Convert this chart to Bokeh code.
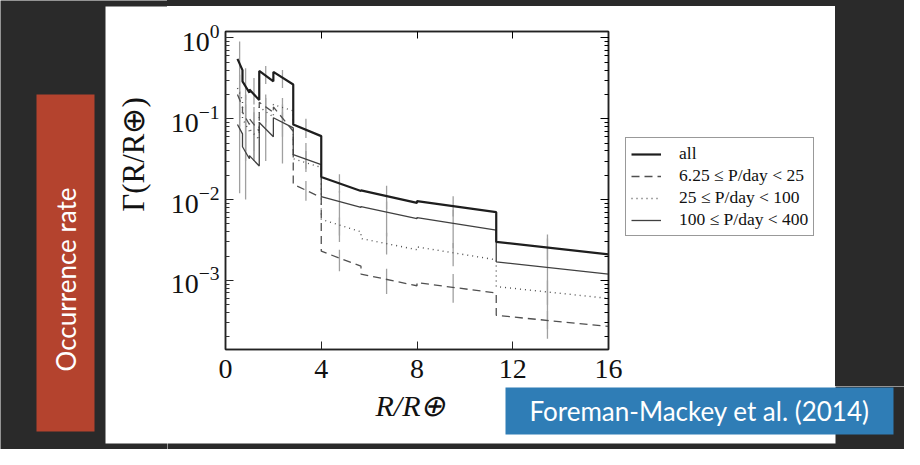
from bokeh.plotting import figure
from bokeh.layouts import row, column
from bokeh.models import (LogAxis, LinearAxis, FixedTicker, LogTicker, Legend,
                          LegendItem, Label, Range1d, Div)
from bokeh.embed import file_html
from bokeh.resources import INLINE

# ---------------- data ----------------
bin_edges = [0.5, 0.71, 1.0, 1.41, 2.0, 2.83, 4.0, 5.66, 8.0, 11.31, 16.0]
bin_centers = [0.59, 0.84, 1.19, 1.68, 2.38, 3.36, 4.76, 6.73, 9.51, 13.45]

all_start = [0.55, 0.29, 0.23, 0.39, 0.38, 0.085, 0.019, 0.0130, 0.0096, 0.0030]
all_end = [0.40, 0.21, 0.17, 0.29, 0.265, 0.061, 0.0128, 0.0091, 0.0070, 0.0021]
all_lo = [0.30, 0.17, 0.15, 0.27, 0.24, 0.058, 0.0122, 0.0076, 0.0062, 0.0018]
all_hi = [0.90, 0.42, 0.32, 0.45, 0.40, 0.100, 0.0206, 0.0148, 0.0110, 0.0033]

short_start = [0.20, 0.12, 0.10, 0.16, 0.14, 0.0155, 0.0023, 0.0012, 0.00094, 0.00037]
short_end = [0.14, 0.085, 0.07, 0.12, 0.07, 0.0106, 0.0015, 0.00086, 0.00070, 0.00027]
short_lo = [0.08, 0.03, 0.04, 0.09, 0.06, 0.0097, 0.0013, 0.00068, 0.00053, 0.00025]
short_hi = [0.30, 0.20, 0.14, 0.20, 0.15, 0.0170, 0.0024, 0.0014, 0.0012, 0.00042]

mid_start = [0.24, 0.10, 0.075, 0.14, 0.15, 0.032, 0.0057, 0.0033, 0.0026, 0.00084]
mid_end = [0.17, 0.07, 0.055, 0.105, 0.125, 0.025, 0.0040, 0.0024, 0.0018, 0.00060]
mid_lo = [0.10, 0.04, 0.03, 0.08, 0.10, 0.022, 0.0030, 0.0021, 0.0015, 0.00050]
mid_hi = [0.35, 0.20, 0.12, 0.18, 0.18, 0.040, 0.0060, 0.0039, 0.0029, 0.0010]

long_start = [0.085, 0.045, 0.035, 0.09, 0.103, 0.036, 0.0109, 0.0082, 0.0060, 0.0017]
long_end = [0.065, 0.032, 0.026, 0.06, 0.077, 0.027, 0.0080, 0.0058, 0.0042, 0.0012]
long_lo = [0.012, 0.010, 0.030, 0.030, 0.028, 0.024, 0.0036, 0.0035, 0.0025, 0.00019]
long_hi = [0.22, 0.15, 0.09, 0.13, 0.12, 0.050, 0.0128, 0.0095, 0.0075, 0.0037]

series_labels = ["all", "6.25 \u2264 P/day < 25", "25 \u2264 P/day < 100",
                 "100 \u2264 P/day < 400"]
x_ticks = [0, 4, 8, 12, 16]

DARK = "#2a2a2a"
RED = "#b4432e"
BLUE = "#2f7db6"
SERIF = "Liberation Serif"

STYLE_ALL = dict(line_color="#1e1e1e", line_width=2.2)
STYLE_SHORT = dict(line_color="#505050", line_width=1.3, line_dash="8 5")
STYLE_MID = dict(line_color="#505050", line_width=1.4, line_dash="1 4")
STYLE_LONG = dict(line_color="#404040", line_width=1.3)


def steps(start, end):
    xs, ys = [], []
    for i in range(len(start)):
        xs += [bin_edges[i], bin_edges[i + 1]]
        ys += [start[i], end[i]]
    return xs, ys


def deco_fig(x0, x1, y0, y1, bg=DARK):
    """A decoration canvas whose frame fills it; coordinates = page pixels."""
    f = figure(width=x1 - x0, height=y1 - y0, title=None, output_backend="svg",
               toolbar_location=None, x_range=Range1d(x0, x1),
               y_range=Range1d(y1, y0), x_axis_location=None, y_axis_location=None,
               min_border=0, border_fill_color=bg, background_fill_color=bg,
               outline_line_color=None)
    f.grid.visible = False
    return f


def strip(w, h):
    return Div(text="", width=w, height=h, margin=0,
               styles={"background-color": DARK})


# ---------------- left strip: red box, its text, y-axis title ----------------
left = deco_fig(8, 175, 8, 457)
left.quad(left=[113], right=[185], top=[14], bottom=[451], fill_color="white",
          line_color=None)
left.quad(left=[44], right=[102], top=[102], bottom=[439], fill_color=RED,
          line_color=None)
left.add_layout(Label(x=73, y=287, text="Occurrence rate", angle=90,
                      angle_units="deg", text_align="center",
                      text_baseline="middle", text_color="white",
                      text_font="Lato", text_font_size="26px"))
left.add_layout(Label(x=141, y=162, text="\u0393(R/R\u2295)", angle=90,
                      angle_units="deg", text_align="center",
                      text_baseline="middle", text_color="#111111",
                      text_font=SERIF, text_font_size="31px"))

# ---------------- top / right strips ----------------
top_strip = strip(737, 6)
right_strip = strip(69, 380)

# ---------------- bottom strip: x title and citation ----------------
bottom = deco_fig(175, 912, 394, 457, bg="white")
bottom.quad(left=[843], right=[930], top=[380], bottom=[470], fill_color=DARK,
            line_color=None)
bottom.quad(left=[160], right=[930], top=[451], bottom=[470], fill_color=DARK,
            line_color=None)
bottom.quad(left=[513], right=[901], top=[395], bottom=[442], fill_color=BLUE,
            line_color=None)
bottom.add_layout(Label(x=418, y=413, text="R/R\u2295", text_align="center",
                        text_baseline="middle", text_color="#111111",
                        text_font=SERIF, text_font_style="italic",
                        text_font_size="30px"))
bottom.add_layout(Label(x=707, y=418, text="Foreman-Mackey et al. (2014)",
                        text_align="center", text_baseline="middle",
                        text_color="white", text_font="Lato",
                        text_font_size="26px"))

# ---------------- main chart ----------------
fig = figure(width=457, height=380, title=None, output_backend="svg",
             toolbar_location=None, x_range=Range1d(0, 16),
             y_range=Range1d(1.4e-4, 1.2), y_axis_type="log",
             min_border_left=57, min_border_right=16, min_border_top=25,
             min_border_bottom=37)
fig.border_fill_color = "white"
fig.background_fill_color = "white"
fig.outline_line_color = "#222222"
fig.outline_line_width = 1.5
fig.grid.visible = False

err_color = "#a0a0a0"
for lo, hi in [(short_lo, short_hi), (mid_lo, mid_hi), (long_lo, long_hi),
               (all_lo, all_hi)]:
    fig.segment(x0=bin_centers, y0=lo, x1=bin_centers, y1=hi,
                line_color=err_color, line_width=1.3)

sx_short, sy_short = steps(short_start, short_end)
fig.line(sx_short, sy_short, **STYLE_SHORT)
sx_mid, sy_mid = steps(mid_start, mid_end)
fig.line(sx_mid, sy_mid, **STYLE_MID)
sx_long, sy_long = steps(long_start, long_end)
fig.line(sx_long, sy_long, **STYLE_LONG)
sx_all, sy_all = steps(all_start, all_end)
fig.line(sx_all, sy_all, **STYLE_ALL)

xa = fig.xaxis[0]
xa.ticker = FixedTicker(ticks=x_ticks)
ya = fig.yaxis[0]
ya.ticker = LogTicker(num_minor_ticks=10)
for ax in (xa, ya):
    ax.axis_line_color = "#222222"
    ax.axis_line_width = 1.5
    ax.major_tick_in = 8
    ax.major_tick_out = 0
    ax.minor_tick_in = 4
    ax.minor_tick_out = 0
    ax.major_tick_line_color = "#222222"
    ax.minor_tick_line_color = "#333333"
    ax.major_label_text_font = SERIF
    ax.major_label_text_font_size = "28px"
    ax.major_label_text_color = "#111111"
xa.minor_tick_line_color = None
xa.major_label_standoff = 10
ya.major_label_standoff = 6

top_ax = LinearAxis(ticker=FixedTicker(ticks=x_ticks), major_tick_in=7,
                    major_tick_out=0, minor_tick_line_color=None,
                    axis_line_color="#222222", axis_line_width=1.5,
                    major_label_text_font_size="0px", major_label_standoff=0,
                    major_label_text_color=None)
right_ax = LogAxis(ticker=LogTicker(num_minor_ticks=10), major_tick_in=8,
                   major_tick_out=0, minor_tick_in=4, minor_tick_out=0,
                   axis_line_color="#222222", axis_line_width=1.5,
                   major_label_text_font_size="0px", major_label_standoff=0,
                   major_label_text_color=None)
fig.add_layout(top_ax, "above")
fig.add_layout(right_ax, "right")

# ---------------- legend panel (right of the axes) ----------------
# legend proxies: the same series, which fall outside this panel's view
leg_fig = deco_fig(632, 843, 14, 394, bg="white")
k_all = leg_fig.line(sx_all, sy_all, **STYLE_ALL)
k_short = leg_fig.line(sx_short, sy_short, **STYLE_SHORT)
k_mid = leg_fig.line(sx_mid, sy_mid, **STYLE_MID)
k_long = leg_fig.line(sx_long, sy_long, **STYLE_LONG)
legend = Legend(items=[LegendItem(label=series_labels[0], renderers=[k_all]),
                       LegendItem(label=series_labels[1], renderers=[k_short]),
                       LegendItem(label=series_labels[2], renderers=[k_mid]),
                       LegendItem(label=series_labels[3], renderers=[k_long])],
                location=(1, 113), orientation="vertical",
                label_text_font=SERIF, label_text_font_size="17.5px",
                label_text_color="#111111",
                glyph_width=30, glyph_height=16, label_height=16,
                label_standoff=18, spacing=1, padding=5, margin=0,
                border_line_color="#333333", border_line_width=1.2,
                background_fill_color="white", background_fill_alpha=1.0)
leg_fig.add_layout(legend)

p = row(left, column(top_strip, row(fig, leg_fig, right_strip), bottom))

open("out.html", "w").write(file_html(p, INLINE))
